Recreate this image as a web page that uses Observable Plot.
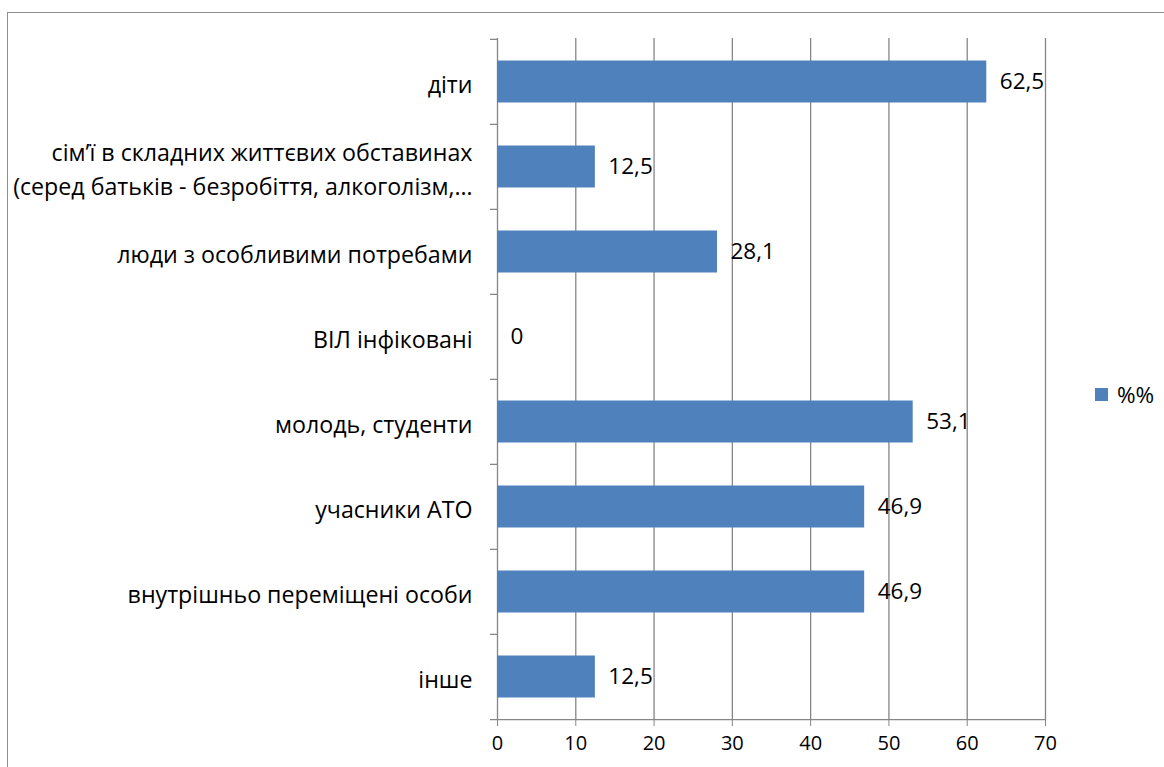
<!DOCTYPE html>
<html><head><meta charset="utf-8">
<script src="https://cdn.jsdelivr.net/npm/d3@7"></script>
<script src="https://cdn.jsdelivr.net/npm/@observablehq/plot@0.6"></script>
<style>
html,body{margin:0;padding:0;background:#fff;overflow:hidden;width:1164px;height:767px;}
#wrap{position:relative;width:1164px;height:767px;}
#border{position:absolute;left:7px;top:12px;width:1200px;height:800px;border:1.5px solid #8e8e8e;box-sizing:border-box;}
#chart{position:absolute;left:0;top:0;}
#legend{position:absolute;left:1095px;top:379px;font-family:"Open Sans",sans-serif;font-size:22.5px;display:flex;align-items:center;color:#000;}
#legend .sw{width:13px;height:13px;background:#4F81BD;margin-right:9px;}
</style></head>
<body><div id="wrap"><div id="border"></div><div id="chart"></div>
<div id="legend"><div class="sw"></div><span>%%</span></div></div>
<script>
const categories = [
  "діти",
  "сім’ї в складних життєвих обставинах\n(серед батьків - безробіття, алкоголізм,…",
  "люди з особливими потребами",
  "ВІЛ інфіковані",
  "молодь, студенти",
  "учасники АТО",
  "внутрішньо переміщені особи",
  "інше"
];
const values = [62.5, 12.5, 28.1, 0, 53.1, 46.9, 46.9, 12.5];
const xTicks = [0, 10, 20, 30, 40, 50, 60, 70];
const seriesName = "%%";

const data = categories.map((c, i) => ({cat: c, v: values[i]}));
const fmt = v => String(v).replace(".", ",");
const band = (720 - 38) / categories.length;
const font = "'Open Sans', sans-serif";

const chart = Plot.plot({
  width: 1164, height: 767,
  marginLeft: 497, marginRight: 119, marginTop: 38, marginBottom: 47,
  style: {fontFamily: font, fontSize: "22px", color: "#000", background: "transparent"},
  x: {domain: [0, 70], ticks: xTicks, label: null},
  y: {domain: categories, padding: 0, label: null},
  marks: [
    Plot.ruleX(xTicks, {stroke: "#868686", strokeWidth: 1.3, strokeOpacity: 1}),
    Plot.ruleY(categories, {y: d => d, x1: 0, x2: 0, insetLeft: -7, dy: -band / 2, stroke: "#868686", strokeWidth: 1.3}),
    Plot.ruleY([categories[categories.length - 1]], {y: d => d, x1: 0, x2: 70, insetLeft: -7, dy: band / 2, stroke: "#868686", strokeWidth: 1.3}),
    Plot.barX(data, {y: "cat", x: "v", fill: "#4F81BD", insetTop: 21.5, insetBottom: 21.5}),
    Plot.text(data, {y: "cat", x: "v", text: d => fmt(d.v), dx: 13, textAnchor: "start", fontSize: 22.5, fill: "#000"}),
    Plot.axisX({ticks: xTicks, tickSize: 6, tickPadding: 9, stroke: "#868686", fontSize: 20, tickFormat: d => String(d), label: null}),
    Plot.axisY({tickSize: 0, tickPadding: 25, fontSize: 23.2, lineHeight: 1.45, label: null})
  ]
});
chart.querySelectorAll("text").forEach(t => t.setAttribute("fill", "#000"));
document.getElementById("chart").appendChild(chart);
</script></body></html>
